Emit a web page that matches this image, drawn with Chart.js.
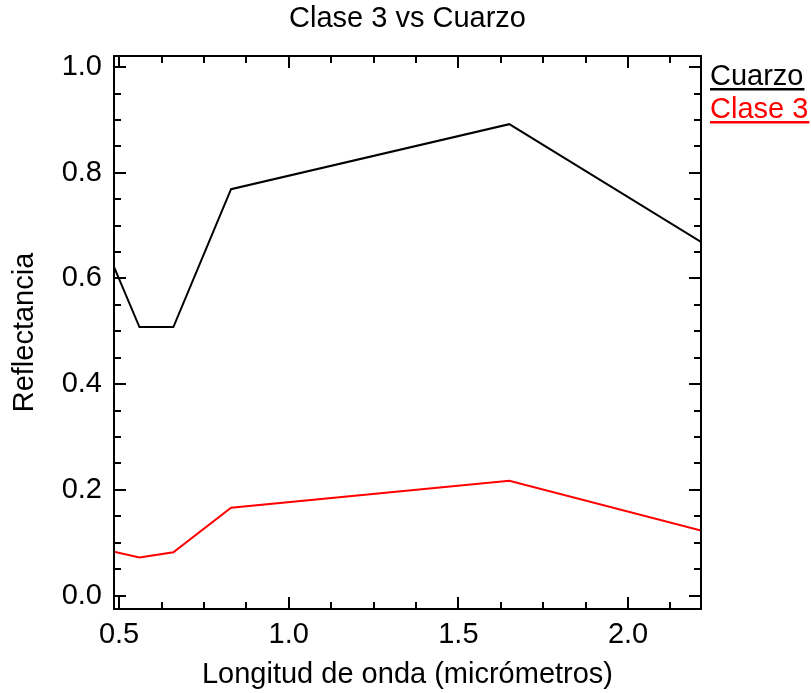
<!DOCTYPE html>
<html>
<head>
<meta charset="utf-8">
<title>Clase 3 vs Cuarzo</title>
<script src="https://cdn.jsdelivr.net/npm/chart.js@4/dist/chart.umd.min.js"></script>
<style>
    html, body { margin: 0; padding: 0; background: #fff; }
    #wrap { width: 811px; height: 693px; }
</style>
</head>
<body>
<div id="wrap"><canvas id="chart" width="811" height="693"></canvas></div>
<script>
// band centres in micrometres
const wavelengths = [0.485, 0.56, 0.66, 0.83, 1.65, 2.215];
const cuarzo = [0.622, 0.508, 0.508, 0.769, 0.892, 0.669];
const clase3 = [0.083, 0.072, 0.082, 0.166, 0.217, 0.123];

const xTicks = [0.5, 1.0, 1.5, 2.0];
const yTicks = [0.0, 0.2, 0.4, 0.6, 0.8, 1.0];

const FONT = '"Liberation Sans", Arial, sans-serif';
const FONT_SIZE = 29;

function toPoints(values) {
    return wavelengths.map((w, i) => ({ x: w, y: values[i] }));
}

// box round the plot with inward ticks on all four sides
const frame = {
    id: 'frame',
    afterDraw(chart) {
        const { ctx, chartArea: a, scales } = chart;
        ctx.save();
        ctx.strokeStyle = '#000';
        ctx.lineWidth = 2;
        ctx.strokeRect(a.left, a.top, a.right - a.left, a.bottom - a.top);

        const major = 12, minor = 7;
        ctx.beginPath();
        for (let v = 0.5; v <= 2.2; v += 0.125) {
            const px = Math.round(scales.x.getPixelForValue(v));
            const len = xTicks.some(t => Math.abs(t - v) < 1e-6) ? major : minor;
            ctx.moveTo(px, a.bottom); ctx.lineTo(px, a.bottom - len);
            ctx.moveTo(px, a.top); ctx.lineTo(px, a.top + len);
        }
        for (let v = 0; v <= 1.0001; v += 0.05) {
            const py = Math.round(scales.y.getPixelForValue(v));
            const len = yTicks.some(t => Math.abs(t - v) < 1e-6) ? major : minor;
            ctx.moveTo(a.left, py); ctx.lineTo(a.left + len, py);
            ctx.moveTo(a.right, py); ctx.lineTo(a.right - len, py);
        }
        ctx.stroke();

        // legend: coloured, underlined names to the right of the box
        ctx.font = FONT_SIZE + 'px ' + FONT;
        ctx.textAlign = 'left';
        ctx.textBaseline = 'alphabetic';
        chart.data.datasets.forEach((ds, i) => {
            const x0 = a.right + 9;
            const base = 85 + i * 33;
            ctx.fillStyle = ds.borderColor;
            ctx.fillText(ds.label, x0, base);
            const w = ctx.measureText(ds.label).width;
            ctx.fillRect(x0, base + 3, w + 1, 2.5);
        });
        ctx.restore();
    }
};

new Chart(document.getElementById('chart'), {
    type: 'line',
    data: {
        datasets: [
            { label: 'Cuarzo', data: toPoints(cuarzo), borderColor: '#000000', borderWidth: 2, pointRadius: 0, tension: 0 },
            { label: 'Clase 3', data: toPoints(clase3), borderColor: '#ff0000', borderWidth: 2, pointRadius: 0, tension: 0 }
        ]
    },
    options: {
        responsive: false,
        devicePixelRatio: 1,
        animation: false,
        layout: { padding: { left: 0, right: 110, top: 0, bottom: 0 } },
        plugins: {
            legend: { display: false },
            tooltip: { enabled: false },
            title: {
                display: true,
                text: 'Clase 3 vs Cuarzo',
                fullSize: false,
                color: '#000',
                font: { family: FONT, size: FONT_SIZE, weight: 'normal', lineHeight: 1.2 },
                padding: { top: 2, bottom: 19.2 }
            }
        },
        scales: {
            x: {
                type: 'linear',
                min: 0.485,
                max: 2.215,
                grid: { display: false, drawTicks: false },
                border: { display: false },
                afterBuildTicks: s => { s.ticks = xTicks.map(v => ({ value: v })); },
                afterFit: s => { s.height = 84; },
                ticks: {
                    autoSkip: false,
                    maxRotation: 0,
                    padding: 8.6,
                    color: '#000',
                    font: { family: FONT, size: FONT_SIZE },
                    callback: v => v.toFixed(1)
                },
                title: {
                    display: true,
                    text: 'Longitud de onda (micrómetros)',
                    color: '#000',
                    font: { family: FONT, size: FONT_SIZE, lineHeight: 1.2 },
                    padding: { top: 0, bottom: 0.6 }
                }
            },
            y: {
                min: -0.0255,
                max: 1.021,
                grid: { display: false, drawTicks: false },
                border: { display: false },
                afterBuildTicks: s => { s.ticks = yTicks.map(v => ({ value: v })); },
                afterFit: s => { s.width = 114; },
                ticks: {
                    autoSkip: false,
                    padding: 12,
                    color: '#000',
                    font: { family: FONT, size: FONT_SIZE },
                    callback: v => v.toFixed(1)
                },
                title: {
                    display: true,
                    text: 'Reflectancia',
                    color: '#000',
                    font: { family: FONT, size: FONT_SIZE, lineHeight: 1.2 },
                    padding: { top: 7.6, bottom: 0 }
                }
            }
        }
    },
    plugins: [frame]
});
</script>
</body>
</html>
